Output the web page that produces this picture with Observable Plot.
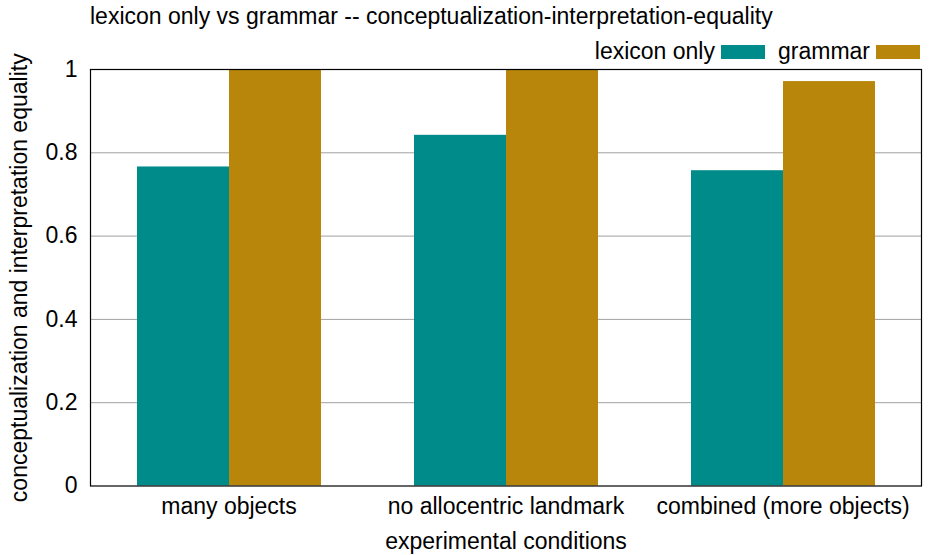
<!DOCTYPE html>
<html>
<head>
<meta charset="utf-8">
<script src="https://cdn.jsdelivr.net/npm/d3@7"></script>
<script src="https://cdn.jsdelivr.net/npm/@observablehq/plot@0.6"></script>
<style>
  html, body { margin: 0; padding: 0; background: #fff; }
  #wrap { position: relative; width: 939px; height: 555px; font-family: "Liberation Sans", Arial, Helvetica, sans-serif; color: #000; }
  #title { position: absolute; left: 90px; top: 3px; font-size: 23px; white-space: nowrap; }
  #legend { position: absolute; right: 19px; top: 38px; display: flex; align-items: center; font-size: 23px; white-space: nowrap; }
  #legend .sw { display: inline-block; width: 44px; height: 14px; margin-left: 6px; margin-right: 13px; }
  #legend .item:last-child .sw { margin-right: 0; }
  #chart { position: absolute; left: 0; top: 0; }
</style>
</head>
<body>
<div id="wrap">
  <div id="chart"></div>
  <div id="title"></div>
  <div id="legend"></div>
</div>
<script>
const titleText = "lexicon only vs grammar -- conceptualization-interpretation-equality";
const conditions = ["many objects", "no allocentric landmark", "combined (more objects)"];
const series = ["lexicon only", "grammar"];
const lexiconOnly = [0.766, 0.842, 0.757];
const grammar = [1.0, 1.0, 0.971];
const yTicks = [0, 0.2, 0.4, 0.6, 0.8, 1];
const gridTicks = [0.2, 0.4, 0.6, 0.8];
const colors = ["#008b8b", "#b8860b"];
const xLabel = "experimental conditions";
const yLabel = "conceptualization and interpretation equality";

const data = [];
conditions.forEach((c, i) => {
  data.push({condition: c, series: series[0], value: lexiconOnly[i]});
  data.push({condition: c, series: series[1], value: grammar[i]});
});

document.getElementById("title").textContent = titleText;
const legend = document.getElementById("legend");
series.forEach((s, i) => {
  const item = document.createElement("span");
  item.className = "item";
  item.style.display = "inline-flex";
  item.style.alignItems = "center";
  const t = document.createElement("span");
  t.textContent = s;
  const sw = document.createElement("span");
  sw.className = "sw";
  sw.style.background = colors[i];
  item.appendChild(t);
  item.appendChild(sw);
  legend.appendChild(item);
});

const chart = Plot.plot({
  width: 939,
  height: 555,
  marginTop: 69,
  marginBottom: 69.5,
  marginLeft: 90,
  marginRight: 18,
  style: {fontSize: "23px", fontFamily: "'Liberation Sans', Arial, Helvetica, sans-serif", color: "#000", background: "#fff"},
  fx: {domain: conditions, padding: 0, axis: "bottom", tickSize: 0, tickPadding: 12, label: xLabel, labelAnchor: "center", labelOffset: 63},
  x: {domain: series, paddingInner: 0, paddingOuter: 0.5, axis: null},
  y: {domain: [0, 1], ticks: yTicks, tickFormat: d3.format("~g"), tickSize: 0, tickPadding: 13, label: yLabel, labelAnchor: "center", labelOffset: 80, labelArrow: false},
  color: {domain: series, range: colors},
  marks: [
    Plot.ruleY(gridTicks, {stroke: "#a0a0a0", strokeWidth: 1}),
    Plot.barY(data, {fx: "condition", x: "series", y: "value", fill: "series"}),
    Plot.frame({facet: "super", stroke: "#000", strokeWidth: 1.2})
  ]
});
document.getElementById("chart").appendChild(chart);
</script>
</body>
</html>
